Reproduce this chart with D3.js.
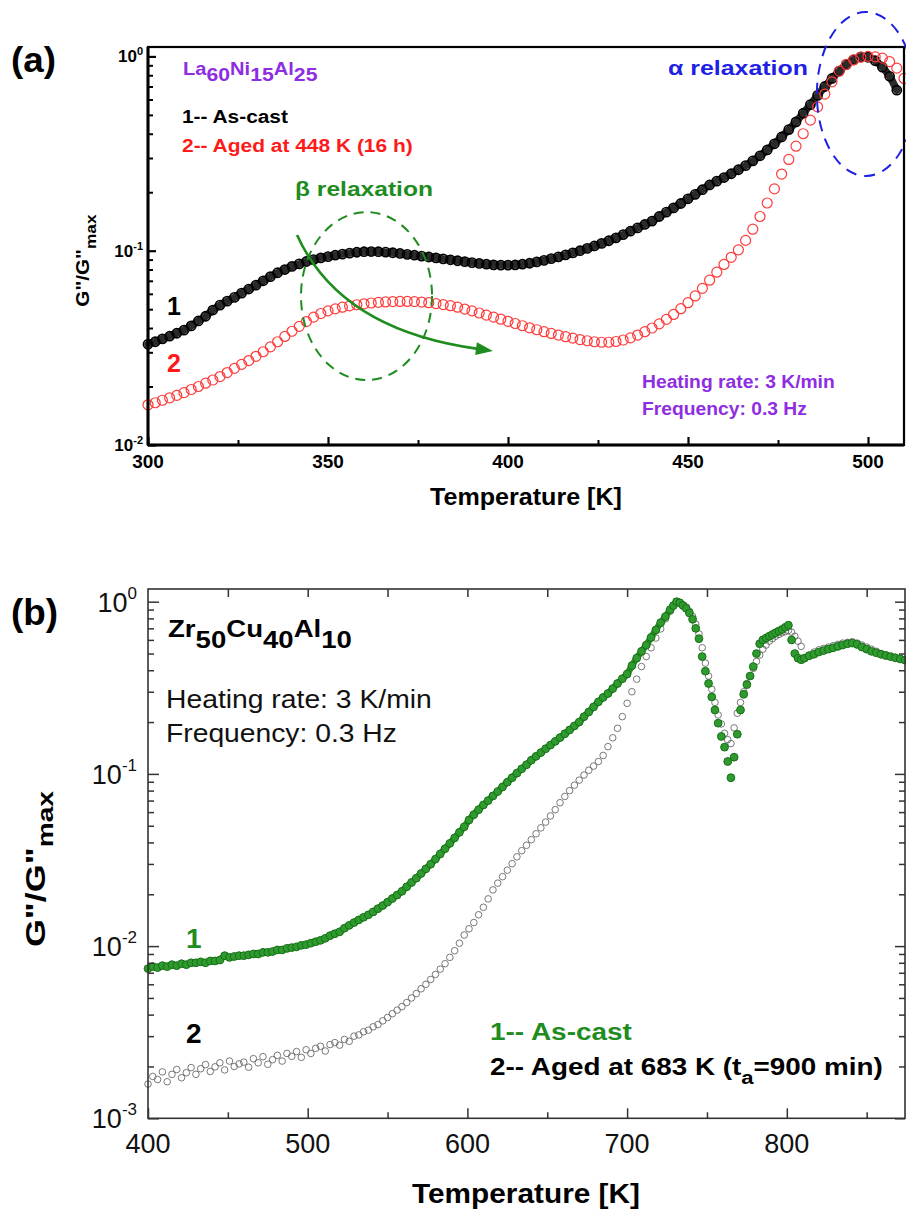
<!DOCTYPE html>
<html><head><meta charset="utf-8">
<script src="https://cdn.jsdelivr.net/npm/d3@7"></script>
<style>
body{margin:0;background:#fff}
svg{display:block}
text{font-family:"Liberation Sans",Arial,sans-serif}
</style>
</head><body>
<svg id="c" width="906" height="1214"></svg>
<script>
// ================= DATA =================
// Panel (a): La60Ni15Al25, G''/G''max vs temperature (K), sampled every 2 K
const tempA = d3.range(300, 511, 2);
const asCastA = [
  .0330,.0340,.0352,.0363,.0376,.0390,.0410,.0435,.0460,.0495,
  .0525,.0550,.0575,.0605,.0635,.0665,.0700,.0735,.0770,.0800,
  .0830,.0855,.0880,.0900,.0918,.0932,.0948,.0960,.0972,.0982,
  .0988,.0990,.0988,.0983,.0976,.0968,.0958,.0948,.0938,.0928,
  .0918,.0908,.0898,.0888,.0878,.0868,.0860,.0852,.0846,.0843,
  .0843,.0846,.0852,.0862,.0876,.0892,.0910,.0930,.0952,.0975,
  .1000,.1028,.1058,.1090,.1125,.1165,.1210,.1260,.1310,.1365,
  .1420,.1500,.1580,.1660,.1750,.1850,.1950,.2060,.2180,.2280,
  .2380,.2490,.2610,.2740,.2900,.3080,.3300,.3550,.3850,.4200,
  .4600,.5100,.5650,.6300,.7000,.7700,.8400,.9100,.9600,.9950,
  .9900,.9500,.8800,.7900,.6700
];
const agedA = [
  .0161,.0165,.0170,.0175,.0180,.0186,.0193,.0200,.0208,.0216,
  .0225,.0236,.0248,.0260,.0272,.0286,.0302,.0320,.0340,.0362,
  .0385,.0408,.0432,.0455,.0475,.0490,.0502,.0512,.0520,.0527,
  .0533,.0538,.0542,.0545,.0547,.0548,.0548,.0547,.0544,.0540,
  .0534,.0528,.0521,.0512,.0501,.0490,.0478,.0466,.0455,.0444,
  .0433,.0422,.0411,.0401,.0392,.0383,.0375,.0368,.0361,.0355,
  .0349,.0344,.0340,.0338,.0338,.0341,.0347,.0356,.0368,.0383,
  .0400,.0420,.0443,.0470,.0503,.0540,.0585,.0640,.0705,.0775,
  .0850,.0925,.1010,.1130,.1290,.1500,.1760,.2080,.2480,.2950,
  .3450,.4000,.4700,.5500,.6400,.7400,.8400,.9100,.9600,.9900,
  1.000,.9950,.9800,.9400,.8700,.7700
];
const xTicksA = [300, 350, 400, 450, 500];
const xMinorA = [325, 375, 425, 475];
const yTicksA = [0.01, 0.1, 1];
const yTickExpA = ["-2", "-1", "0"];

// Panel (b): Zr50Cu40Al10
const tempB = [...d3.range(400, 728, 3), ...d3.range(729, 812, 2), ...d3.range(814, 875, 3)];
const asCastB = [
  .0074,.0076,.0075,.0077,.0076,.0078,.0077,.0079,.0078,.0080,
  .0080,.0081,.0080,.0082,.0082,.0083,.0088,.0086,.0087,.0088,
  .0088,.0089,.0090,.0090,.0092,.0092,.0093,.0095,.0095,.0097,
  .0098,.0099,.0101,.0102,.0104,.0106,.0108,.0111,.0115,.0118,
  .0121,.0127,.0132,.0137,.0142,.0147,.0152,.0158,.0165,.0172,
  .0180,.0189,.0198,.0208,.0221,.0234,.0248,.0264,.0281,.0299,
  .0320,.0343,.0368,.0395,.0425,.0458,.0493,.0540,.0580,.0620,
  .0660,.0700,.0745,.0790,.0840,.0895,.0950,.1010,.1070,.1130,
  .1200,.1265,.1330,.1400,.1470,.1545,.1625,.1710,.1800,.1900,
  .2000,.2150,.2290,.2450,.2620,.2780,.2930,.3130,.3350,.3570,
  .3800,.4250,.4700,.5150,.5600,.6200,.6850,.7550,.8200,.9000,
  .950,1.000,.985,.950,.915,.860,.790,.700,.610,.480,
  .395,.335,.280,.235,.197,.165,.143,.118,.095,.125,
  .170,.235,.290,.330,.370,.420,.500,.570,.600,.615,
  .630,.645,.660,.675,.690,.710,.730,.600,.500,.470,
  .460,.470,
  .485,.495,.510,.520,.530,.540,.550,.560,.570,.575,
  .565,.545,.530,.515,.505,.495,.487,.480,.472,.465,.458
];
const agedB = [
  .00158,.00175,.00168,.00186,.00163,.00180,.00192,.00172,.00184,.00197,
  .00180,.00194,.00205,.00187,.00199,.00210,.00191,.00215,.00200,.00207,
  .00212,.00198,.00222,.00210,.00228,.00206,.00219,.00232,.00215,.00238,
  .00229,.00244,.00226,.00250,.00238,.00255,.00262,.00246,.00268,.00275,
  .00266,.00287,.00280,.00300,.00305,.00318,.00325,.00340,.00350,.00368,
  .00385,.00405,.00425,.00445,.00470,.00500,.00530,.00565,.00600,.00640,
  .00685,.00735,.00790,.00860,.00940,.01040,.01160,.01260,.01370,.01520,
  .01680,.01880,.02120,.02320,.02530,.02760,.03010,.03300,.03580,.03850,
  .04150,.04490,.04860,.05250,.05700,.06200,.06800,.07400,.08000,.08600,
  .09200,.09850,.10500,.11100,.11800,.12800,.14400,.16200,.18400,.21500,
  .25700,.30000,.35500,.42000,.48000,.54000,.61500,.69500,.79500,.88000,
  .950,1.000,.990,.960,.930,.880,.820,.740,.650,.540,
  .440,.370,.310,.260,.220,.195,.172,.158,.150,.185,
  .225,.260,.300,.335,.370,.410,.450,.490,.530,.560,
  .590,.610,.630,.645,.660,.670,.680,.665,.630,.590,
  .550,.470,
  .490,.510,.525,.535,.545,.555,.565,.575,.580,.585,
  .575,.560,.545,.530,.515,.500,.490,.480,.475,.468,.460
];
const xTicksB = [400, 500, 600, 700, 800];
const xMinorB = [450, 550, 650, 750, 850];
const xTopB = [450, 500, 550, 600, 650, 700, 750, 800, 850];
const yTicksB = [0.001, 0.01, 0.1, 1];
const yTickExpB = ["-3", "-2", "-1", "0"];

// annotation anchors (data coordinates)
const betaEllipse = {t0: 342.5, t1: 378.9, v0: 0.0216, v1: 0.158};
const betaArrow = [[341.4, 0.1205], [353.3, 0.0391], [395.8, 0.0305]];
const alphaEllipse = {t0: 485.8, t1: 513.0, v0: 0.2424, v1: 1.692};

// ================= DRAWING =================
const svg = d3.select('#c');
const PURPLE = '#8e2de2', RED = '#ff1a1a', GREEN = '#1e8c1e', BLUE = '#1f1fe6';

function minorLog(lo, hi) {
  const out = [];
  for (let e = lo; e < hi; e++) for (let m = 2; m <= 9; m++) out.push(+(m * Math.pow(10, e)).toPrecision(3));
  return out;
}
function ticks(g, axisFn, scale, vals, size, tx, ty, color, width) {
  const a = g.append('g').attr('transform', `translate(${tx},${ty})`)
    .call(axisFn(scale).tickValues(vals).tickSize(size).tickFormat(''));
  a.select('.domain').remove();
  a.selectAll('text').remove();
  a.selectAll('line').attr('stroke', color).attr('stroke-width', width);
}
function label(parent, x, y, style, segs, width) {
  const t = parent.append('text').attr('x', x).attr('y', y)
    .attr('font-size', style.size).attr('font-weight', style.weight || 'normal')
    .attr('fill', style.fill || '#000').attr('text-anchor', style.anchor || 'start');
  if (style.family) t.attr('font-family', style.family);
  let off = 0;
  segs.forEach(s => {
    const o = typeof s === 'string' ? {t: s, dy: 0} : s;
    const d = o.dy || 0;
    const sp = t.append('tspan').text(o.t).attr('dy', d - off);
    if (o.size) sp.attr('font-size', o.size);
    off = d;
  });
  if (width) {
    const w = t.node().getBBox().width;
    const k = width / w;
    t.attr('transform', `translate(${x},0) scale(${k},1) translate(${-x},0)`);
  }
  return t;
}

// ---------- Panel (a) ----------
const xA = d3.scaleLinear().domain([300, 510]).range([148, 904]);
const yA = d3.scaleLog().domain([0.01, 1.118]).range([445, 47]);
const gA = svg.append('g');

const ptsA1 = tempA.map((t, i) => ({t, v: asCastA[i]})).filter(d => d.v !== undefined);
const ptsA2 = tempA.map((t, i) => ({t, v: agedA[i]})).filter(d => d.v !== undefined);

gA.append('path').datum(ptsA1)
  .attr('d', d3.line().x(d => xA(d.t)).y(d => yA(d.v)).curve(d3.curveMonotoneX))
  .attr('fill', 'none').attr('stroke', '#2a2a2a').attr('stroke-width', 7.5).attr('stroke-linecap', 'round');
gA.append('g').selectAll('circle').data(ptsA1).join('circle')
  .attr('cx', d => xA(d.t)).attr('cy', d => yA(d.v)).attr('r', 4.6)
  .attr('fill', 'none').attr('stroke', '#000').attr('stroke-width', 1.6);
gA.append('g').selectAll('circle').data(ptsA2).join('circle')
  .attr('cx', d => xA(d.t)).attr('cy', d => yA(d.v)).attr('r', 5)
  .attr('fill', 'none').attr('stroke', '#ff3b3b').attr('stroke-width', 1.2);

const [xa0, xa1] = xA.range(), [ya0, ya1] = yA.range();
gA.append('rect').attr('x', xa0).attr('y', ya1).attr('width', xa1 - xa0).attr('height', ya0 - ya1)
  .attr('fill', 'none').attr('stroke', '#000').attr('stroke-width', 2.2);
gA.append('line').attr('x1', xa0).attr('x2', xa0).attr('y1', ya1).attr('y2', ya0).attr('stroke', '#000').attr('stroke-width', 3);
gA.append('line').attr('x1', xa0).attr('x2', xa1).attr('y1', ya0).attr('y2', ya0).attr('stroke', '#000').attr('stroke-width', 3);
ticks(gA, d3.axisLeft, yA, yTicksA, -8, xa0, 0, '#000', 2.2);
ticks(gA, d3.axisLeft, yA, minorLog(-2, 0), -5, xa0, 0, '#000', 2);
ticks(gA, d3.axisBottom, xA, xTicksA, -8, 0, ya0, '#000', 2.2);
ticks(gA, d3.axisBottom, xA, xMinorA, -5, 0, ya0, '#000', 2);

xTicksA.forEach(t => label(gA, xA(t), 468, {size: 19, weight: 'bold', anchor: 'middle'}, [String(t)]));
yTicksA.forEach((v, i) => label(gA, 143, yA(v) + 6, {size: 17, weight: 'bold', anchor: 'end'},
  ['10', {t: yTickExpA[i], dy: -7, size: 11}]));

label(gA, 526, 505, {size: 24, weight: 'bold', anchor: 'middle'}, ['Temperature [K]'], 192);
{
  const g = gA.append('g').attr('transform', 'translate(88.5,306.7) rotate(-90)');
  label(g, 0, 0, {size: 18, weight: 'bold'}, ['G"/G"', {t: 'max', dy: 7, size: 15}], 93);
}

const be = betaEllipse;
gA.append('ellipse')
  .attr('cx', (xA(be.t0) + xA(be.t1)) / 2).attr('cy', (yA(be.v0) + yA(be.v1)) / 2)
  .attr('rx', (xA(be.t1) - xA(be.t0)) / 2).attr('ry', (yA(be.v0) - yA(be.v1)) / 2)
  .attr('fill', 'none').attr('stroke', GREEN).attr('stroke-width', 2).attr('stroke-dasharray', '10,7');
{
  const p = betaArrow.map(d => [xA(d[0]), yA(d[1])]);
  const dx = p[2][0] - p[1][0], dy = p[2][1] - p[1][1], L = Math.hypot(dx, dy);
  const ux = dx / L, uy = dy / L, hl = 17, hw = 6.5;
  const bx = p[2][0] - ux * hl, by = p[2][1] - uy * hl;
  gA.append('path').attr('d', `M${p[0][0]},${p[0][1]} Q${p[1][0]},${p[1][1]} ${bx + ux * 2},${by + uy * 2}`)
    .attr('fill', 'none').attr('stroke', GREEN).attr('stroke-width', 2.6);
  gA.append('path').attr('d', `M${p[2][0]},${p[2][1]} L${bx - uy * hw},${by + ux * hw} L${bx + uy * hw},${by - ux * hw} Z`)
    .attr('fill', GREEN);
}
const ae = alphaEllipse;
gA.append('ellipse')
  .attr('cx', (xA(ae.t0) + xA(ae.t1)) / 2).attr('cy', (yA(ae.v0) + yA(ae.v1)) / 2)
  .attr('rx', (xA(ae.t1) - xA(ae.t0)) / 2).attr('ry', (yA(ae.v0) - yA(ae.v1)) / 2)
  .attr('fill', 'none').attr('stroke', BLUE).attr('stroke-width', 2).attr('stroke-dasharray', '11,8');

label(svg, 11, 72, {size: 36, weight: 'bold', family: '"Open Sans", sans-serif'}, ['(a)'], 45);
label(gA, 183, 75, {size: 18, weight: 'bold', fill: PURPLE},
  ['La', {t: '60', dy: 6, size: 19}, 'Ni', {t: '15', dy: 6, size: 19}, 'Al', {t: '25', dy: 6, size: 19}], 135);
label(gA, 182, 123, {size: 18, weight: 'bold'}, ['1-- As-cast'], 106);
label(gA, 182, 152, {size: 18, weight: 'bold', fill: RED}, ['2-- Aged at 448 K (16 h)'], 231);
label(gA, 295, 196, {size: 20, weight: 'bold', fill: GREEN}, ['β relaxation'], 138);
label(gA, 668, 75, {size: 20, weight: 'bold', fill: BLUE}, ['α relaxation'], 140);
label(gA, 167, 315, {size: 25, weight: 'bold'}, ['1']);
label(gA, 167, 372, {size: 25, weight: 'bold', fill: RED}, ['2']);
label(gA, 642, 388, {size: 19, weight: 'bold', fill: PURPLE}, ['Heating rate: 3 K/min'], 193);
label(gA, 642, 415, {size: 19, weight: 'bold', fill: PURPLE}, ['Frequency: 0.3 Hz'], 165);

// ---------- Panel (b) ----------
const xB = d3.scaleLinear().domain([400, 874]).range([148, 905]);
const yB = d3.scaleLog().domain([0.001, 1.185]).range([1118.3, 589]);
const gB = svg.append('g');
const ptsB1 = tempB.map((t, i) => ({t, v: asCastB[i]}));
const ptsB2 = tempB.map((t, i) => ({t, v: agedB[i]}));

gB.append('g').selectAll('circle').data(ptsB2).join('circle')
  .attr('cx', d => xB(d.t)).attr('cy', d => yB(d.v)).attr('r', 3.3)
  .attr('fill', 'none').attr('stroke', '#6a6a6a').attr('stroke-width', 0.9);
// continuous band under the as-cast markers (the dense part of the record)
gB.append('path').datum(ptsB1.filter(d => d.t <= 731))
  .attr('d', d3.line().x(d => xB(d.t)).y(d => yB(d.v)).curve(d3.curveMonotoneX))
  .attr('fill', 'none').attr('stroke', '#2a922a').attr('stroke-width', 6.5).attr('stroke-linecap', 'round');
gB.append('g').selectAll('circle').data(ptsB1).join('circle')
  .attr('cx', d => xB(d.t)).attr('cy', d => yB(d.v)).attr('r', 3.9)
  .attr('fill', '#2f9b2f').attr('stroke', '#177017').attr('stroke-width', 1);

const [xb0, xb1] = xB.range(), [yb0, yb1] = yB.range();
const FR = '#333';
gB.append('rect').attr('x', xb0).attr('y', yb1).attr('width', xb1 - xb0).attr('height', yb0 - yb1)
  .attr('fill', 'none').attr('stroke', FR).attr('stroke-width', 1.6);
ticks(gB, d3.axisLeft, yB, yTicksB, -11, xb0, 0, FR, 1.5);
ticks(gB, d3.axisLeft, yB, minorLog(-3, 0), -6, xb0, 0, FR, 1.5);
ticks(gB, d3.axisRight, yB, yTicksB, -10, xb1, 0, FR, 1.5);
ticks(gB, d3.axisRight, yB, minorLog(-3, 0), -6, xb1, 0, FR, 1.5);
ticks(gB, d3.axisBottom, xB, xTicksB, -10, 0, yb0, FR, 1.5);
ticks(gB, d3.axisBottom, xB, xMinorB, -6, 0, yb0, FR, 1.5);
ticks(gB, d3.axisTop, xB, xTopB, -8, 0, yb1, FR, 1.5);

xTicksB.forEach(t => label(gB, xB(t), 1153, {size: 27, anchor: 'middle', fill: '#111'}, [String(t)]));
yTicksB.forEach((v, i) => label(gB, 137, yB(v) + 10, {size: 27, anchor: 'end', fill: '#111'},
  ['10', {t: yTickExpB[i], dy: -13, size: 17}]));

label(gB, 526, 1203, {size: 28, weight: 'bold', anchor: 'middle'}, ['Temperature [K]'], 228);
{
  const g = gB.append('g').attr('transform', 'translate(45,947) rotate(-90)');
  label(g, 0, 0, {size: 28, weight: 'bold'}, ['G"/G"', {t: 'max', dy: 8, size: 22}], 157);
}

label(svg, 11, 625, {size: 36, weight: 'bold', family: '"Open Sans", sans-serif'}, ['(b)'], 47);
label(gB, 168, 637, {size: 24, weight: 'bold'},
  ['Zr', {t: '50', dy: 11}, 'Cu', {t: '40', dy: 11}, 'Al', {t: '10', dy: 11}], 184);
label(gB, 166, 708, {size: 25, fill: '#111'}, ['Heating rate: 3 K/min'], 266);
label(gB, 166, 742, {size: 25, fill: '#111'}, ['Frequency: 0.3 Hz'], 231);
label(gB, 186, 948, {size: 28, weight: 'bold', fill: GREEN}, ['1']);
label(gB, 186, 1043, {size: 28, weight: 'bold'}, ['2']);
label(gB, 490, 1040, {size: 24, weight: 'bold', fill: GREEN}, ['1-- As-cast'], 142);
label(gB, 490, 1075, {size: 24, weight: 'bold'},
  ['2-- Aged at 683 K (t', {t: 'a', dy: 9, size: 19}, '=900 min)'], 393);
</script>
</body></html>
